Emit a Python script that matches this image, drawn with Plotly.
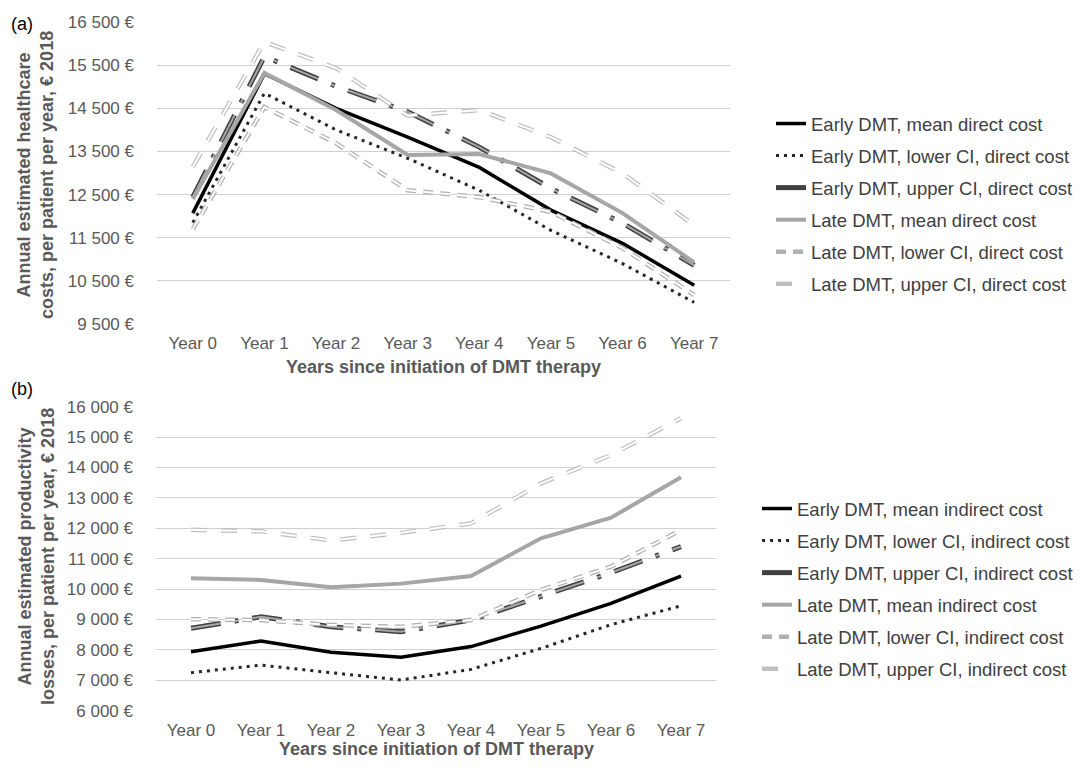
import plotly.graph_objects as go

years = ["Year 0", "Year 1", "Year 2", "Year 3", "Year 4", "Year 5", "Year 6", "Year 7"]

# Panel (a): direct costs
a_early_mean = [12070, 15300, 14500, 13830, 13130, 12140, 11370, 10400]
a_early_lower = [11850, 14850, 14000, 13340, 12600, 11670, 10900, 10000]
a_early_upper = [12440, 15700, 15010, 14420, 13600, 12640, 11840, 10860]
a_late_mean = [12400, 15320, 14460, 13420, 13440, 12990, 12070, 10930]
a_late_lower = [11700, 14530, 13690, 12600, 12440, 12100, 11260, 10170]
a_late_upper = [13140, 16040, 15430, 14330, 14460, 13830, 12990, 11790]

# Panel (b): indirect costs
b_early_mean = [7940, 8290, 7920, 7760, 8110, 8780, 9530, 10430]
b_early_lower = [7250, 7500, 7250, 7010, 7360, 8050, 8830, 9450]
b_early_upper = [8710, 9090, 8760, 8600, 8980, 9750, 10540, 11400]
b_late_mean = [10360, 10300, 10060, 10180, 10430, 11670, 12350, 13680]
b_late_lower = [9010, 8980, 8820, 8760, 8980, 9970, 10740, 11940]
b_late_upper = [11950, 11900, 11600, 11850, 12160, 13480, 14410, 15620]

a_names = ["Early DMT, mean direct cost", "Early DMT, lower CI, direct cost",
           "Early DMT, upper CI, direct cost", "Late DMT, mean direct cost",
           "Late DMT, lower CI, direct cost", "Late DMT, upper CI, direct cost"]
b_names = ["Early DMT, mean indirect cost", "Early DMT, lower CI, indirect cost",
           "Early DMT, upper CI, indirect cost", "Late DMT, mean indirect cost",
           "Late DMT, lower CI, indirect cost", "Late DMT, upper CI, indirect cost"]

a_tickvals = [9500, 10500, 11500, 12500, 13500, 14500, 15500, 16500]
a_ticktext = ["9 500 €", "10 500 €", "11 500 €", "12 500 €", "13 500 €", "14 500 €", "15 500 €", "16 500 €"]
b_tickvals = [6000, 7000, 8000, 9000, 10000, 11000, 12000, 13000, 14000, 15000, 16000]
b_ticktext = ["6 000 €", "7 000 €", "8 000 €", "9 000 €", "10 000 €", "11 000 €",
              "12 000 €", "13 000 €", "14 000 €", "15 000 €", "16 000 €"]

# styles: list of (color, width, dash) layers; first layer carries legend
styles = [
    [("#000000", 3.5, "solid")],
    [("#262626", 3, "3px,5px")],
    [("#404040", 5, "30px,14px,4px,14px"), ("#a6a6a6", 2, "30px,14px,4px,14px")],
    [("#a6a6a6", 4, "solid")],
    [("#b0b0b0", 4.5, "10px,7px"), ("#ffffff", 2, "10px,7px")],
    [("#bfbfbf", 4.5, "16px,14px"), ("#ffffff", 2, "16px,14px")],
]

fig = go.Figure()

def add_panel(series, names, xa, ya, legend):
    for i, (vals, name) in enumerate(zip(series, names)):
        for j, (c, w, d) in enumerate(styles[i]):
            fig.add_trace(go.Scatter(
                x=years, y=vals, mode="lines", name=name,
                line=dict(color=c, width=w, dash=d),
                xaxis=xa, yaxis=ya, legend=legend,
                legendgroup=f"{legend}_{i}", showlegend=(j == 0),
                hoverinfo="skip"))

add_panel([a_early_mean, a_early_lower, a_early_upper, a_late_mean, a_late_lower, a_late_upper],
          a_names, "x", "y", "legend")
add_panel([b_early_mean, b_early_lower, b_early_upper, b_late_mean, b_late_lower, b_late_upper],
          b_names, "x2", "y2", "legend2")

# page has an 8px body margin; size the figure to fit the window
OFF = 8
W, H = 1082 - OFF, 767 - 2 * OFF

def X(px):
    return (px - OFF) / W

def Y(py):
    return 1 - (py - OFF) / H

gray = "#595959"
FONT = "Arial, Liberation Sans, sans-serif"
tickfont = dict(family=FONT, size=17, color=gray)
legfont = dict(family=FONT, size=18.5, color="#404040")

fig.update_layout(
    width=W, height=H,
    margin=dict(l=0, r=0, t=0, b=0, autoexpand=False),
    paper_bgcolor="white", plot_bgcolor="white",
    font=dict(family=FONT, color=gray),
    xaxis=dict(domain=[X(157), X(730)], anchor="y", range=[-0.5, 7.5], showgrid=False,
               showline=False, tickfont=tickfont, ticks="", ticklabelstandoff=7,
               automargin=False),
    yaxis=dict(domain=[Y(324), Y(22)], anchor="x", range=[9500, 16500],
               tickvals=a_tickvals, ticktext=a_ticktext, tickfont=tickfont,
               showgrid=True, gridcolor="#d0d0d0", gridwidth=1, zeroline=False,
               showline=False, ticklabelstandoff=22, automargin=False),
    xaxis2=dict(domain=[X(156), X(716)], anchor="y2", range=[-0.5, 7.5], showgrid=False,
                showline=False, tickfont=tickfont, ticks="", ticklabelstandoff=7,
                automargin=False),
    yaxis2=dict(domain=[Y(710.7), Y(406.7)], anchor="x2", range=[6000, 16000],
                tickvals=b_tickvals, ticktext=b_ticktext, tickfont=tickfont,
                showgrid=True, gridcolor="#d0d0d0", gridwidth=1, zeroline=False,
                showline=False, ticklabelstandoff=22, automargin=False),
    legend=dict(x=X(771), y=Y(105), xanchor="left", yanchor="top",
                font=legfont, tracegroupgap=5, bgcolor="rgba(0,0,0,0)"),
    legend2=dict(x=X(757), y=Y(490), xanchor="left", yanchor="top",
                 font=legfont, tracegroupgap=5, bgcolor="rgba(0,0,0,0)"),
    showlegend=True,
)

ann_font_bold = dict(family=FONT, size=18, color=gray)
annotations = [
    dict(text="<b>Annual estimated healthcare<br>costs, per patient per year, € 2018</b>",
         x=X(36), y=Y(175), textangle=-90, font=ann_font_bold),
    dict(text="<b>Annual estimated productivity<br>losses, per patient per year, € 2018</b>",
         x=X(36), y=Y(557), textangle=-90, font=ann_font_bold),
    dict(text="<b>Years since initiation of DMT therapy</b>", x=X(443), y=Y(367),
         font=ann_font_bold),
    dict(text="<b>Years since initiation of DMT therapy</b>", x=X(436), y=Y(749),
         font=ann_font_bold),
    dict(text="(a)", x=X(22), y=Y(24), font=dict(family=FONT, size=18, color="#000000")),
    dict(text="(b)", x=X(22), y=Y(389), font=dict(family=FONT, size=18, color="#000000")),
]
for a in annotations:
    a.update(xref="paper", yref="paper", showarrow=False, xanchor="center", yanchor="middle")
fig.update_layout(annotations=annotations)

fig.write_html("out.html")
